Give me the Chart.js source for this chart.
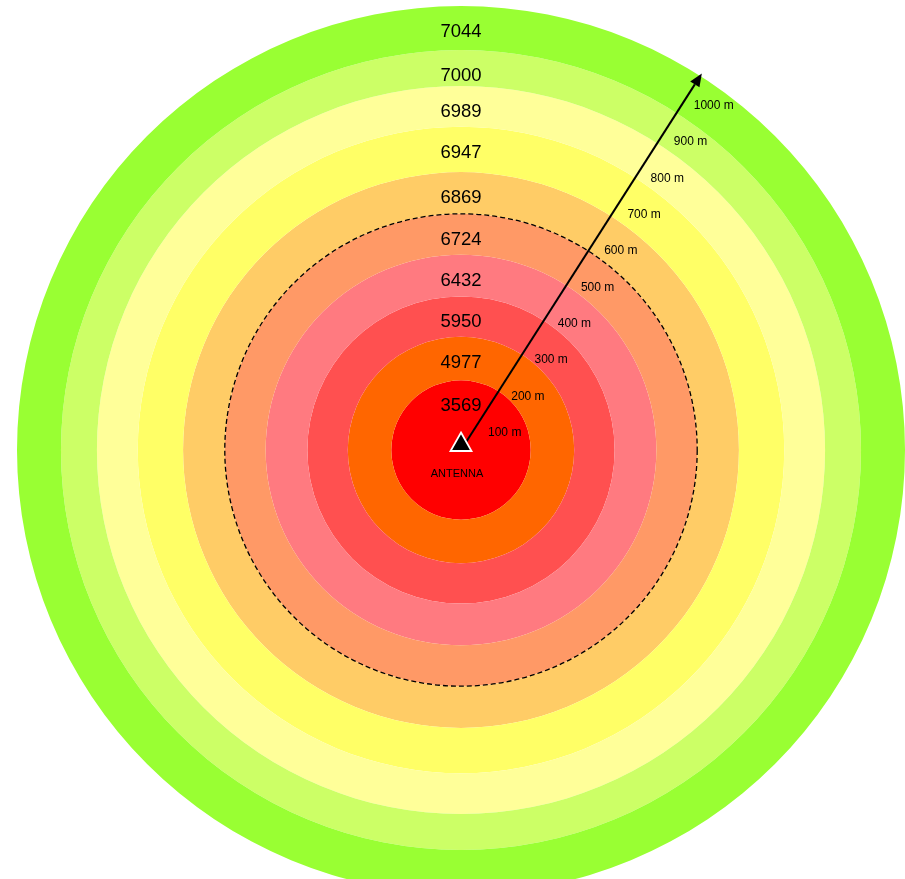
<!DOCTYPE html>
<html>
<head>
<meta charset="utf-8">
<title>Antenna coverage</title>
<script src="https://cdn.jsdelivr.net/npm/chart.js@4.4.1/dist/chart.umd.min.js"></script>
<style>
  html, body { margin:0; padding:0; background:#fff; overflow:hidden; }
  #wrap { position:relative; width:905px; height:879px; }
</style>
</head>
<body>
<div id="wrap"><canvas id="rings" width="905" height="879"></canvas></div>
<script>
// ring values, from the antenna outwards
const ringValues = [3569, 4977, 5950, 6432, 6724, 6869, 6947, 6989, 7000, 7044];
// outer edge of each ring, metres from the antenna
const ringEdges = [157, 255, 346, 440, 532, 626, 728, 820, 901, 1000];
const ringColors = ["#ff0000","#ff6600","#ff5050","#ff7a80","#ff9966","#ffcc66","#ffff66","#ffff99","#ccff66","#99ff33"];
// distance marks along the arrow
const distTicks = [100, 200, 300, 400, 500, 600, 700, 800, 900, 1000];
const distLabels = distTicks.map(d => d + " m");
const maxDist = 1000;
const dashedRing = 4; // the 6724 ring gets the dashed outline

const FONT = "'Liberation Sans', Arial, Helvetica, sans-serif";
const ARROW_ANGLE = 32.6 * Math.PI / 180; // clockwise from straight up

// doughnut draws dataset 0 as the outer ring, so go outside in
const order = ringValues.map((v, i) => i).reverse();
const datasets = order.map(i => ({
  label: String(ringValues[i]),
  data: [1],
  backgroundColor: ringColors[i],
  borderWidth: 0,
  weight: ringEdges[i] - (i ? ringEdges[i - 1] : 0),
  clip: false
}));

const overlay = {
  id: "overlay",
  afterDatasetsDraw(chart) {
    const ctx = chart.ctx;
    const arcs = chart.data.datasets.map((ds, k) => chart.getDatasetMeta(k).data[0]);
    const cx = arcs[0].x, cy = arcs[0].y, R = arcs[0].outerRadius;
    const pxPerM = R / maxDist;
    ctx.save();

    // dashed outline
    const dArc = arcs[order.indexOf(dashedRing)];
    ctx.beginPath();
    ctx.arc(cx, cy, dArc.outerRadius, 0, Math.PI * 2);
    ctx.setLineDash([5, 3]);
    ctx.lineWidth = 1.3;
    ctx.strokeStyle = "#000";
    ctx.stroke();
    ctx.setLineDash([]);

    // ring values near the top of each ring
    ctx.fillStyle = "#000";
    ctx.textAlign = "center";
    ctx.textBaseline = "middle";
    ctx.font = "18.5px " + FONT;
    arcs.forEach((a, k) => {
      ctx.fillText(chart.data.datasets[k].label, cx, cy - (a.outerRadius - 26));
    });

    // arrow
    const ux = Math.sin(ARROW_ANGLE), uy = -Math.cos(ARROW_ANGLE);
    const nx = -uy, ny = ux;
    const L = R + 3, head = 13, hw = 5.5;
    const tx = cx + ux * L, ty = cy + uy * L;
    const bx = tx - ux * head, by = ty - uy * head;
    ctx.beginPath();
    ctx.moveTo(cx, cy);
    ctx.lineTo(bx, by);
    ctx.lineWidth = 2;
    ctx.stroke();
    ctx.beginPath();
    ctx.moveTo(tx, ty);
    ctx.lineTo(bx + nx * hw, by + ny * hw);
    ctx.lineTo(bx - nx * hw, by - ny * hw);
    ctx.closePath();
    ctx.fill();

    // distance labels
    ctx.font = "12px " + FONT;
    distTicks.forEach((d, k) => {
      const s = d * pxPerM * 0.971 - 5;
      ctx.fillText(distLabels[k], cx + ux * s + nx * 27.5, cy + uy * s + ny * 27.5);
    });

    // antenna
    ctx.beginPath();
    ctx.moveTo(cx, cy - 17.5);
    ctx.lineTo(cx + 10.5, cy + 1);
    ctx.lineTo(cx - 10.5, cy + 1);
    ctx.closePath();
    ctx.fillStyle = "#000";
    ctx.fill();
    ctx.strokeStyle = "#fff";
    ctx.lineWidth = 1.8;
    ctx.stroke();
    ctx.fillStyle = "#000";
    ctx.font = "11px " + FONT;
    ctx.fillText("ANTENNA", cx - 4, cy + 23.5);

    ctx.restore();
  }
};

new Chart(document.getElementById("rings"), {
  type: "doughnut",
  data: { labels: ["coverage"], datasets },
  options: {
    responsive: false,
    animation: false,
    events: [],
    cutout: 0,
    radius: 444,
    layout: { padding: { left: 17, top: 21, right: 0, bottom: 0 } },
    plugins: { legend: { display: false }, tooltip: { enabled: false } }
  },
  plugins: [overlay]
});
</script>
</body>
</html>
